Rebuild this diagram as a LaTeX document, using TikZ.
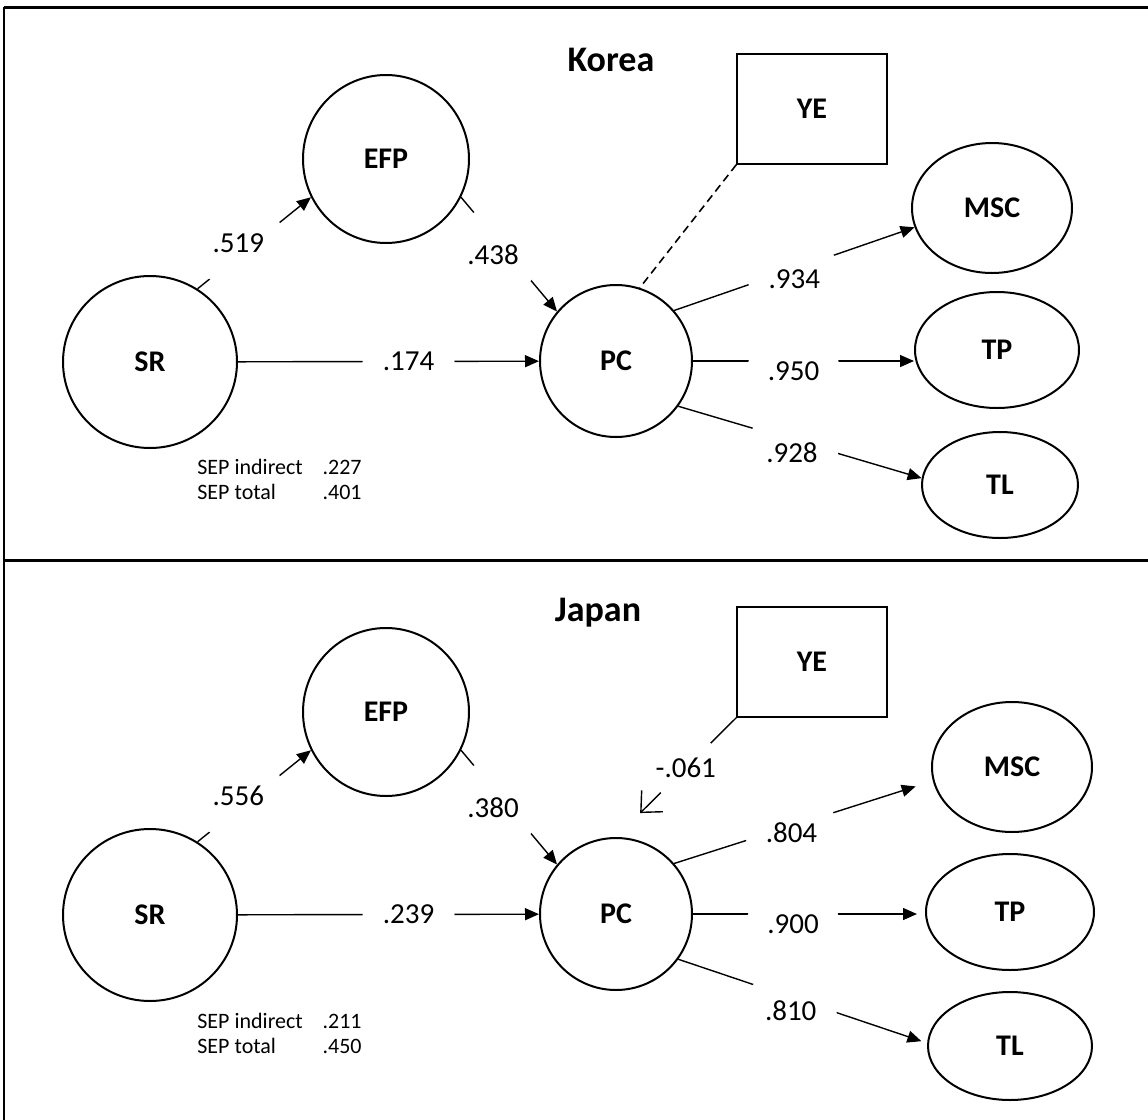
\documentclass[tikz,border=0pt]{standalone}
\usepackage{fontspec}
\setmainfont{Carlito}
\usetikzlibrary{arrows.meta,shapes.geometric}

\tikzset{
  latent/.style={ellipse, draw, line width=1pt, inner sep=0pt, font=\fontsize{15}{18}\selectfont\bfseries},
  observed/.style={rectangle, draw, line width=0.7pt, inner sep=0pt, minimum width=75pt, minimum height=55pt, font=\fontsize{15}{18}\selectfont\bfseries},
  coef/.style={circle, fill=white, inner sep=0pt, minimum size=46pt, font=\fontsize{14.5}{17}\selectfont},
  effect/.style={line width=0.7pt, -{Triangle[length=7pt,width=6pt]}},
  ctrl/.style={line width=0.7pt, -{Straight Barb[length=8pt,width=15pt]}},
  title/.style={font=\fontsize{18}{22}\selectfont\bfseries},
  note/.style={font=\fontsize{11}{12.5}\selectfont, anchor=base west, inner sep=0pt}
}

\begin{document}
\begin{tikzpicture}[x=0.5pt, y=-0.5pt]
	\useasboundingbox (0,0) rectangle (1148,1120);
	
	% frame
	\draw[line width=1.5pt] (4,7) -- (1148,7);
	\draw[line width=1.5pt] (4,560) -- (1148,560);
	\draw[line width=0.8pt] (4,7) -- (4,1120);
	
	% Korea
	\node[title] (tK) at (611,60) {Korea};
	\node[latent, minimum width=87pt, minimum height=86pt] (SRk) at (150,362) {SR};
	\node[latent, minimum width=83pt, minimum height=84pt] (EFPk) at (386,159) {EFP};
	\node[latent, minimum width=76pt, minimum height=76pt] (PCk) at (616,361) {PC};
	\node[observed] (YEk) at (812,109) {YE};
	\node[latent, minimum width=80pt, minimum height=65pt] (MSCk) at (992,208) {MSC};
	\node[latent, minimum width=82pt, minimum height=58pt] (TPk) at (997,350) {TP};
	\node[latent, minimum width=78pt, minimum height=53pt] (TLk) at (1000,485) {TL};
	
	\draw[effect] (SRk.57) -- node[coef, xshift=-8pt] {.519} (EFPk.207);
	\draw[effect] (EFPk.-27) -- node[coef, xshift=-8pt] {.438} (PCk.140);
	\draw[effect] (SRk) -- node[coef, xshift=10pt] {.174} (PCk);
	\draw[line width=0.8pt, dash pattern=on 4pt off 2.5pt] (YEk.south west) -- (PCk.72);
	\draw[effect] (PCk.41) -- node[coef, yshift=-5pt] {.934} (MSCk.194);
	\draw[effect] (PCk.east) -- node[coef, xshift=-5pt, yshift=-5pt] {.950} (PCk.east -| TPk.west);
	\draw[effect] (PCk.-36) -- node[coef, xshift=-4pt, yshift=-5pt] {.928} (TLk.175);
	
	\node[note] (sepK) at (197,474) {\begin{tabular}[t]{@{}l@{\hspace{0.9em}}l@{}}SEP indirect & .227\\ SEP total & .401\end{tabular}};
	
	% Japan
	\node[title] (tJ) at (598,613) {Japan};
	\node[latent, minimum width=87pt, minimum height=86pt] (SRj) at (150,915) {SR};
	\node[latent, minimum width=83pt, minimum height=84pt] (EFPj) at (386,712) {EFP};
	\node[latent, minimum width=76pt, minimum height=76pt] (PCj) at (616,914) {PC};
	\node[observed] (YEj) at (812,662) {YE};
	\node[latent, minimum width=80pt, minimum height=65pt] (MSCj) at (1012,767) {MSC};
	\node[latent, minimum width=84pt, minimum height=58pt] (TPj) at (1010,912) {TP};
	\node[latent, minimum width=82pt, minimum height=54pt] (TLj) at (1010,1046) {TL};
	
	\draw[effect] (SRj.57) -- node[coef, xshift=-8pt] {.556} (EFPj.207);
	\draw[effect] (EFPj.-27) -- node[coef, xshift=-8pt] {.380} (PCj.140);
	\draw[effect] (SRj) -- node[coef, xshift=10pt] {.239} (PCj);
	\draw[ctrl, shorten >=17pt] (YEj.south west) -- node[coef, pos=0.42, minimum size=35pt] {-.061} (PCj.north);
	\draw[effect, shorten >=9pt] (PCj.41) -- node[coef, xshift=-6pt, yshift=-5pt] {.804} (MSCj.190);
	\draw[effect, shorten >=4pt] (PCj.east) -- node[coef, xshift=-8pt, yshift=-5pt] {.900} (PCj.east -| TPj.west);
	\draw[effect, shorten >=3pt] (PCj.-36) -- node[coef, xshift=-6pt, yshift=-5pt] {.810} (TLj.178);
	
	\node[note] (sepJ) at (197,1028) {\begin{tabular}[t]{@{}l@{\hspace{0.9em}}l@{}}SEP indirect & .211\\ SEP total & .450\end{tabular}};
\end{tikzpicture}
\end{document}
